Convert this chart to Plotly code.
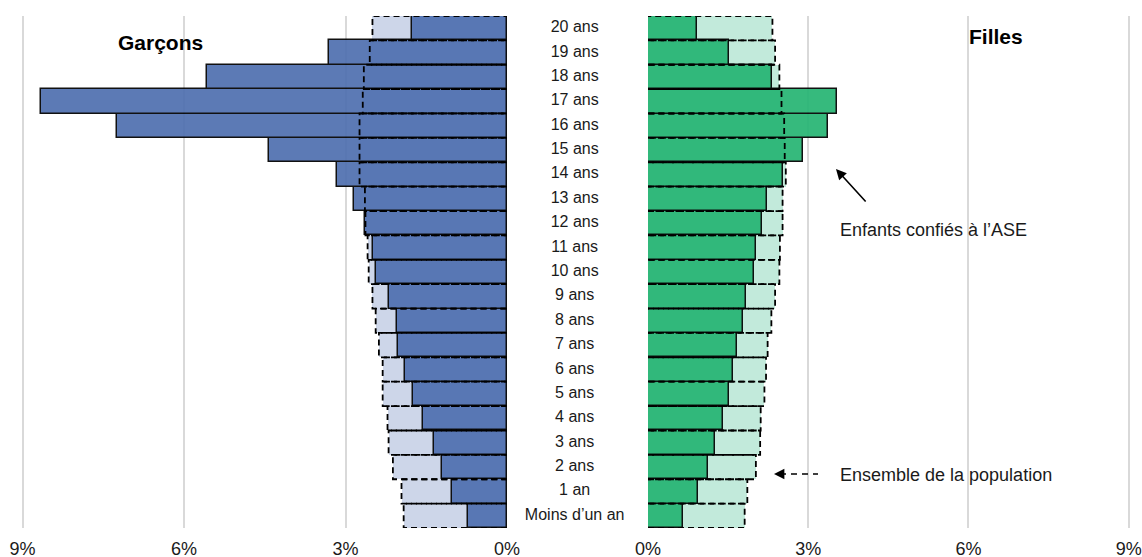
import plotly.graph_objects as go

categories = ["Moins d’un an", "1 an", "2 ans", "3 ans", "4 ans", "5 ans", "6 ans", "7 ans",
              "8 ans", "9 ans", "10 ans", "11 ans", "12 ans", "13 ans", "14 ans", "15 ans",
              "16 ans", "17 ans", "18 ans", "19 ans", "20 ans"]
boys_ase = [0.73, 1.02, 1.21, 1.36, 1.56, 1.75, 1.90, 2.03, 2.05, 2.20, 2.44, 2.49, 2.63, 2.85,
            3.15, 4.43, 7.24, 8.66, 5.58, 3.31, 1.77]
boys_pop = [1.92, 1.96, 2.12, 2.20, 2.22, 2.31, 2.31, 2.38, 2.44, 2.50, 2.57, 2.59, 2.63, 2.64,
            2.74, 2.74, 2.74, 2.68, 2.66, 2.55, 2.50]
girls_ase = [0.66, 0.94, 1.12, 1.26, 1.41, 1.52, 1.60, 1.67, 1.77, 1.83, 1.99, 2.03, 2.14, 2.23,
             2.53, 2.90, 3.37, 3.53, 2.33, 1.51, 0.91]
girls_pop = [1.81, 1.86, 2.02, 2.10, 2.11, 2.18, 2.21, 2.24, 2.31, 2.38, 2.46, 2.47, 2.52, 2.52,
             2.58, 2.56, 2.55, 2.50, 2.46, 2.38, 2.33]
tick_vals = [0, 3, 6, 9]
tick_text = ["0%", "3%", "6%", "9%"]

W, H = 1142, 557
FONT = "Liberation Sans, Arial, sans-serif"
ypos = list(range(len(categories)))

BOY_DARK, BOY_LIGHT = "#5070b0", "#cdd6e9"
GIRL_DARK, GIRL_LIGHT = "#27b574", "#c2eadb"


def outline(values):
    xs, ys = [], []
    for i, v in zip(ypos, values):
        xs += [0, v, v, 0, None]
        ys += [i - 0.5, i - 0.5, i + 0.5, i + 0.5, None]
    return xs, ys


fig = go.Figure()
for vals_pop, vals_ase, light, dark, xa in [
    (boys_pop, boys_ase, BOY_LIGHT, BOY_DARK, "x"),
    (girls_pop, girls_ase, GIRL_LIGHT, GIRL_DARK, "x2"),
]:
    fig.add_trace(go.Bar(x=vals_pop, y=ypos, orientation="h", xaxis=xa, yaxis="y",
                         marker=dict(color=light, line=dict(width=0)), width=1,
                         showlegend=False, hoverinfo="skip"))
    fig.add_trace(go.Bar(x=vals_ase, y=ypos, orientation="h", xaxis=xa, yaxis="y",
                         marker=dict(color=dark, line=dict(color="black", width=1.5)),
                         opacity=0.93, width=1, showlegend=False, hoverinfo="skip"))
    ox, oy = outline(vals_pop)
    fig.add_trace(go.Scatter(x=ox, y=oy, mode="lines", xaxis=xa, yaxis="y",
                             line=dict(color="black", width=1.8, dash="6px,4px"),
                             showlegend=False, hoverinfo="skip"))

fig.add_trace(go.Scatter(x=[0.48] * len(categories), y=ypos, text=categories, mode="text",
                         xaxis="x3", yaxis="y", textposition="middle center",
                         textfont=dict(size=16, color="#1a1a1a", family=FONT),
                         showlegend=False, hoverinfo="skip"))

axis_common = dict(tickvals=tick_vals, ticktext=tick_text, showgrid=True, gridcolor="#d9d9d9",
                   gridwidth=2, zeroline=False, showline=False, ticks="",
                   tickfont=dict(size=18, color="#1a1a1a", family=FONT),
                   ticklabelstandoff=8, automargin=False, anchor="y", fixedrange=True)

fig.update_layout(
    width=W, height=H,
    margin=dict(l=0, r=0, t=16, b=29),
    paper_bgcolor="white", plot_bgcolor="white",
    barmode="overlay", bargap=0,
    font=dict(family=FONT, color="#1a1a1a"),
    xaxis=dict(domain=[0, 507 / W], range=[9.42, 0], **axis_common),
    xaxis2=dict(domain=[648 / W, 1], range=[0, 9.25], **axis_common),
    xaxis3=dict(domain=[507 / W, 648 / W], range=[0, 1], visible=False, anchor="y"),
    yaxis=dict(domain=[0, 1], range=[-0.5, 20.5], visible=False, anchor="x"),
)

ytop = H - 29
plot_h = H - 29 - 16


def py(pix):
    return (ytop - pix) / plot_h


fig.add_annotation(text="<b>Garçons</b>", x=116 / W, y=py(42), xref="paper", yref="paper",
                   yanchor="middle", showarrow=False,
                   font=dict(size=21, color="black", family=FONT))
fig.add_annotation(text="<b>Filles</b>", x=1025 / W, y=py(36), xref="paper", yref="paper",
                   yanchor="middle", showarrow=False,
                   font=dict(size=21, color="black", family=FONT))
fig.add_annotation(text="Enfants confiés à l’ASE", x=838 / W, y=py(230), xref="paper",
                   yref="paper", xanchor="left", yanchor="middle", showarrow=False,
                   font=dict(size=18, color="#1a1a1a", family=FONT))
fig.add_annotation(text="Ensemble de la population", x=838 / W, y=py(475), xref="paper",
                   yref="paper", xanchor="left", yanchor="middle", showarrow=False,
                   font=dict(size=18, color="#1a1a1a", family=FONT))
# solid arrow
fig.add_annotation(text="", x=836 / W, y=py(169), xref="paper", yref="paper",
                   ax=31, ay=34, showarrow=True, arrowhead=2, arrowsize=1.3,
                   arrowwidth=1.6, arrowcolor="black")
# dashed arrow
fig.add_shape(type="line", x0=780 / W, x1=818 / W, y0=py(474), y1=py(474), xref="paper",
              yref="paper", line=dict(color="black", width=1.6, dash="6px,5px"))
fig.add_annotation(text="", x=774 / W, y=py(474), xref="paper", yref="paper",
                   ax=8, ay=0, showarrow=True, arrowhead=2, arrowsize=1.3,
                   arrowwidth=1.6, arrowcolor="black")

fig.write_html("out.html", config={"displayModeBar": False},
               post_script="document.body.style.margin='0';document.body.style.overflow='hidden';")
